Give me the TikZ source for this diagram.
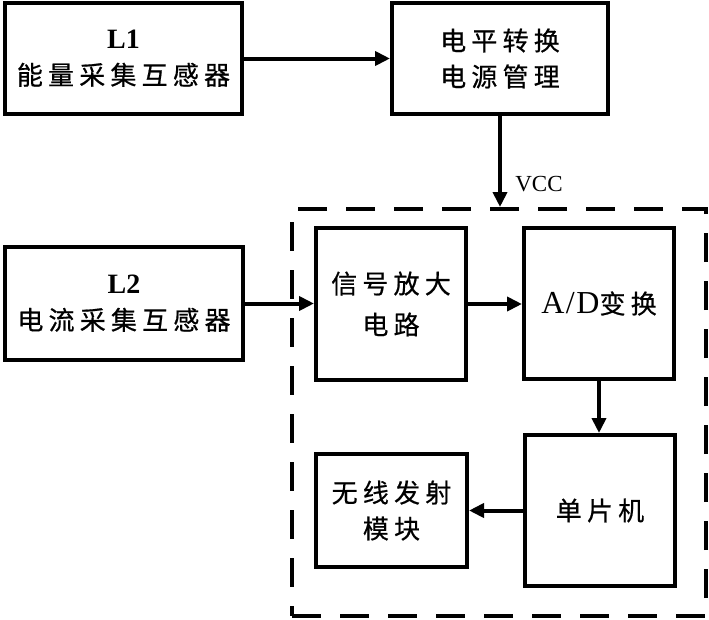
\documentclass[tikz,border=0pt]{standalone}
\usepackage{fontspec}
\setmainfont{Liberation Serif}
\newfontfamily\cjfam{Noto Sans CJK SC}[LetterSpace=20,FakeBold=0.6]
\newfontfamily\latfam{Liberation Serif}[LetterSpace=5]
\newcommand\cjfont{\fontsize{26}{36}\selectfont\cjfam}
\newcommand\latn{\fontsize{28}{36}\selectfont\rmfamily\bfseries}
\newcommand\latsp{\fontsize{32}{36}\selectfont\latfam}
\usetikzlibrary{arrows.meta}
\begin{document}
\begin{tikzpicture}[x=1pt,y=-1pt,
  box/.style={draw,line width=4pt,inner sep=0pt,align=center,font=\cjfont},
  grpbox/.style={draw,line width=4pt,dash pattern=on 29pt off 19pt,inner sep=0pt},
  arr/.style={line width=4pt,-{Triangle[length=15pt,width=14pt]}}]
\useasboundingbox (0,0) rectangle (709,619);
\node[box,minimum width=237pt,minimum height=111pt] (l1) at (123.5,58.5) {{\latn L1}\\能量采集互感器};
\node[box,minimum width=216pt,minimum height=111pt] (pwr) at (500,58.5) {电平转换\\电源管理};
\node[grpbox,minimum width=414pt,minimum height=407pt] (grp) at (499,412.5) {};
\node[box,minimum width=238pt,minimum height=113pt] (l2) at (124,303.5) {{\latn L2}\\电流采集互感器};
\node[box,minimum width=150pt,minimum height=152pt] (sig) at (391,304) {信号放大\\[5pt]电路};
\node[box,minimum width=150pt,minimum height=151pt] (ad) at (599,303.5) {{\latsp A/D}变换};
\node[box,minimum width=150pt,minimum height=151pt] (mcu) at (600,510.5) {单片机};
\node[box,minimum width=151pt,minimum height=113pt] (rf) at (391.5,510.5) {无线发射\\模块};
\node[font=\fontsize{23}{23}\selectfont] (vcc) at (539,184) {VCC};
\draw[arr] (l1.east) -- (pwr.west);
\draw[arr] (pwr.south) -- (pwr.south |- grp.north);
\draw[arr] (l2.east) -- (l2.east -| sig.west);
\draw[arr] (sig.east) -- (sig.east -| ad.west);
\draw[arr] (ad.south -| 599,0) -- (599,0 |- mcu.north);
\draw[arr] (mcu.west) -- (mcu.west -| rf.east);
\end{tikzpicture}
\end{document}
